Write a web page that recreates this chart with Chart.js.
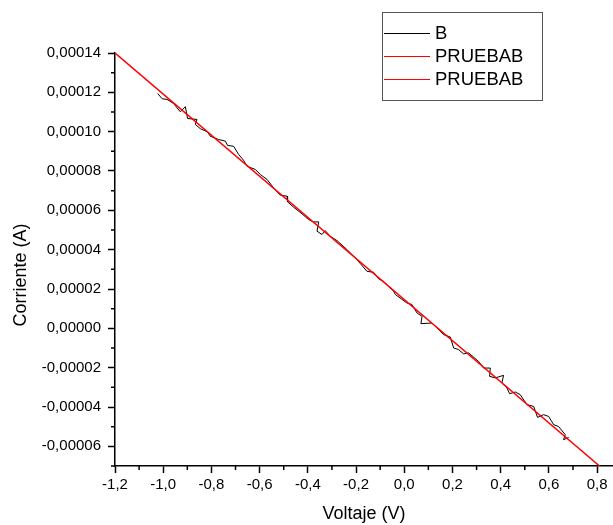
<!DOCTYPE html>
<html>
<head>
<meta charset="utf-8">
<script src="https://cdn.jsdelivr.net/npm/chart.js@4.4.1/dist/chart.umd.min.js"></script>
<style>
  html, body { margin: 0; padding: 0; background: #fff; }
  #wrap { width: 613px; height: 525px; }
</style>
</head>
<body>
<div id="wrap"><canvas id="ivChart" width="613" height="525"></canvas></div>
<script>
// measured curve "B" (voltage in V, current in A)
const bVoltage = [-1.023, -1.004, -0.984, -0.957, -0.929, -0.908, -0.899, -0.860, -0.867, -0.846,
  -0.816, -0.805, -0.770, -0.742, -0.733, -0.708, -0.687, -0.667, -0.652, -0.618,
  -0.597, -0.569, -0.542, -0.514, -0.486, -0.484, -0.459, -0.424, -0.397, -0.376,
  -0.355, -0.362, -0.341, -0.328, -0.307, -0.279, -0.238, -0.203, -0.182, -0.155,
  -0.127, -0.106, -0.086, -0.044, -0.037, 0.011, 0.032, 0.053, 0.074, 0.069,
  0.115, 0.136, 0.163, 0.191, 0.205, 0.225, 0.246, 0.267, 0.308, 0.329,
  0.357, 0.354, 0.378, 0.412, 0.405, 0.426, 0.437, 0.461, 0.481, 0.509,
  0.537, 0.553, 0.578, 0.599, 0.620, 0.640, 0.668, 0.661, 0.682];
const bCurrent = [11.94e-5, 11.67e-5, 11.64e-5, 11.43e-5, 11.01e-5, 11.27e-5, 10.67e-5, 10.62e-5, 10.37e-5, 10.15e-5,
  9.99e-5, 9.77e-5, 9.60e-5, 9.52e-5, 9.30e-5, 9.26e-5, 8.84e-5, 8.55e-5, 8.24e-5, 8.08e-5,
  7.82e-5, 7.57e-5, 7.14e-5, 6.77e-5, 6.72e-5, 6.43e-5, 6.16e-5, 5.82e-5, 5.53e-5, 5.41e-5,
  5.41e-5, 4.94e-5, 4.77e-5, 4.97e-5, 4.68e-5, 4.46e-5, 4.01e-5, 3.58e-5, 3.29e-5, 2.90e-5,
  2.85e-5, 2.51e-5, 2.39e-5, 1.88e-5, 1.72e-5, 1.29e-5, 1.21e-5, 0.78e-5, 0.61e-5, 0.24e-5,
  0.27e-5, 0.02e-5, -0.32e-5, -0.44e-5, -1.00e-5, -1.08e-5, -1.30e-5, -1.25e-5, -1.68e-5, -2.02e-5,
  -2.02e-5, -2.44e-5, -2.52e-5, -2.39e-5, -2.78e-5, -3.03e-5, -3.32e-5, -3.24e-5, -3.37e-5, -3.88e-5,
  -3.97e-5, -4.53e-5, -4.39e-5, -4.48e-5, -4.90e-5, -4.99e-5, -5.41e-5, -5.66e-5, -5.55e-5];

// linear fit "PRUEBAB"
const fitVoltage = [-1.2, 0.81];
const fitCurrent = [0.00014, -0.00007];

// axes
const xMajorTicks = [-1.2, -1.0, -0.8, -0.6, -0.4, -0.2, 0.0, 0.2, 0.4, 0.6, 0.8];
const xMinorTicks = [-1.1, -0.9, -0.7, -0.5, -0.3, -0.1, 0.1, 0.3, 0.5, 0.7];
const yMajorTicks = [-0.00006, -0.00004, -0.00002, 0, 0.00002, 0.00004, 0.00006, 0.00008, 0.00010, 0.00012, 0.00014];
const yMinorTicks = [-0.00007, -0.00005, -0.00003, -0.00001, 0.00001, 0.00003, 0.00005, 0.00007, 0.00009, 0.00011, 0.00013];

const FONT = "'Liberation Sans', Arial, sans-serif";

const toPoints = (xs, ys) => xs.map((x, i) => ({ x: x, y: ys[i] }));

// minor ticks, y title and boxed legend
const extras = {
    id: "extras",
    afterDraw(chart) {
        const ctx = chart.ctx;
        const xs = chart.scales.x, ys = chart.scales.y;
        const area = chart.chartArea;
        ctx.save();
        ctx.strokeStyle = "#000";
        ctx.lineWidth = 1.5;
        ctx.beginPath();
        xMinorTicks.forEach(v => {
            const px = xs.getPixelForValue(v);
            ctx.moveTo(px, area.bottom);
            ctx.lineTo(px, area.bottom + 4);
        });
        yMinorTicks.forEach(v => {
            const py = ys.getPixelForValue(v);
            ctx.moveTo(area.left, py);
            ctx.lineTo(area.left - 4, py);
        });
        ctx.stroke();

        // y axis title
        ctx.fillStyle = "#000";
        ctx.font = "18px " + FONT;
        ctx.textAlign = "center";
        ctx.textBaseline = "middle";
        ctx.translate(21, 275);
        ctx.rotate(-Math.PI / 2);
        ctx.fillText("Corriente (A)", 0, 0);
        ctx.restore();

        // legend
        ctx.save();
        const bx = 382, by = 12, bw = 160, bh = 88;
        ctx.strokeStyle = "#555";
        ctx.lineWidth = 1;
        ctx.strokeRect(bx + 0.5, by + 0.5, bw, bh);
        ctx.font = "18.5px " + FONT;
        ctx.textAlign = "left";
        ctx.textBaseline = "middle";
        chart.data.datasets.forEach((ds, i) => {
            const ly = 33 + i * 23;
            ctx.strokeStyle = ds.borderColor;
            ctx.lineWidth = 1;
            ctx.beginPath();
            ctx.moveTo(384, ly + 0.5);
            ctx.lineTo(430, ly + 0.5);
            ctx.stroke();
            ctx.fillStyle = "#000";
            ctx.fillText(ds.label, 435, ly + 1);
        });
        ctx.restore();
    }
};

const fmt = (v, digits) => v.toFixed(digits).replace(".", ",");

const ctx = document.getElementById("ivChart").getContext("2d");
const ivChart = new Chart(ctx, {
    type: "scatter",
    data: {
        datasets: [{
            label: "B",
            data: toPoints(bVoltage, bCurrent),
            showLine: true,
            borderColor: "#000",
            borderWidth: 1,
            pointRadius: 0,
            order: 1
        }, {
            label: "PRUEBAB",
            data: toPoints(fitVoltage, fitCurrent),
            showLine: true,
            borderColor: "#ff0000",
            borderWidth: 1.5,
            pointRadius: 0,
            order: 0
        }, {
            label: "PRUEBAB",
            data: [],
            showLine: true,
            borderColor: "#ff0000",
            borderWidth: 1,
            pointRadius: 0,
            order: 2
        }]
    },
    options: {
        responsive: false,
        animation: false,
        devicePixelRatio: 1,
        layout: { padding: { top: 53, right: 0, left: 0, bottom: 0 } },
        scales: {
            x: {
                type: "linear",
                min: -1.2,
                max: 0.866,
                afterBuildTicks: s => { s.ticks = xMajorTicks.map(v => ({ value: v })); },
                afterFit: s => { s.height = 59; },
                border: { display: true, color: "#000", width: 1.5 },
                grid: { display: true, drawOnChartArea: false, drawTicks: true, tickLength: 7, tickColor: "#000", tickWidth: 1.5 },
                ticks: {
                    color: "#000",
                    padding: 3,
                    maxRotation: 0,
                    autoSkip: false,
                    font: { family: FONT, size: 15 },
                    callback: v => fmt(v, 1)
                },
                title: {
                    display: true,
                    text: "Voltaje (V)",
                    color: "#000",
                    padding: { top: 0, bottom: 0 },
                    font: { family: FONT, size: 18 }
                }
            },
            y: {
                type: "linear",
                min: -0.00007,
                max: 0.00014,
                afterBuildTicks: s => { s.ticks = yMajorTicks.map(v => ({ value: v })); },
                afterFit: s => { s.width = 115; },
                border: { display: true, color: "#000", width: 1.5 },
                grid: { display: true, drawOnChartArea: false, drawTicks: true, tickLength: 7, tickColor: "#000", tickWidth: 1.5 },
                ticks: {
                    color: "#000",
                    padding: 7,
                    autoSkip: false,
                    font: { family: FONT, size: 15 },
                    callback: v => fmt(v, 5)
                }
            }
        },
        plugins: {
            legend: { display: false },
            tooltip: { enabled: false }
        }
    },
    plugins: [extras]
});
</script>
</body>
</html>
